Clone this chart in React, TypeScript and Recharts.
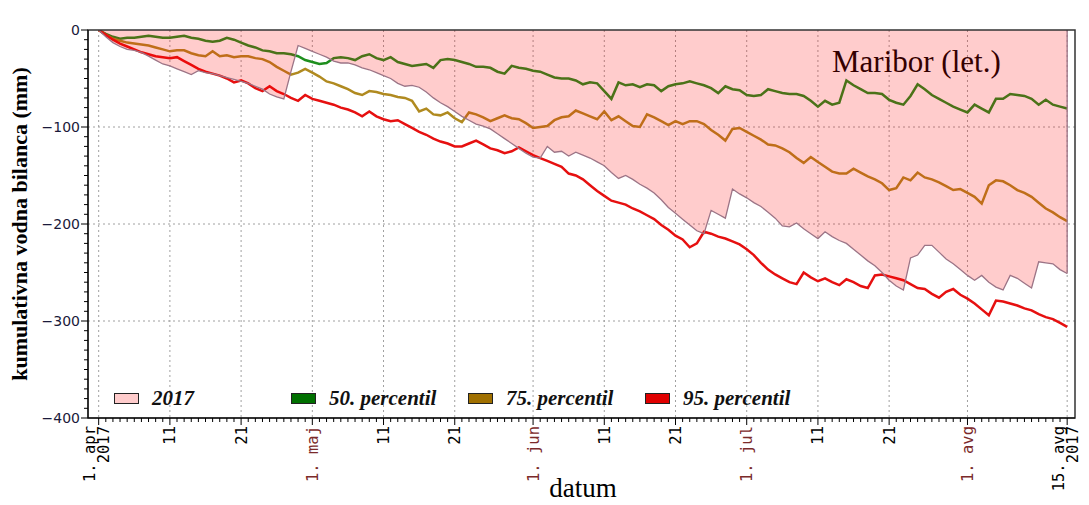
import React from 'react'
import {
  ComposedChart,
  Line,
  Area,
  XAxis,
  YAxis,
  CartesianGrid,
  ReferenceLine,
  ReferenceArea,
  Legend,
  Customized,
} from 'recharts'

// day index from 1. apr 2017 to 15. avg 2017
const days = Array.from({ length: 137 }, (_, i) => i)

const bilanca2017 = [
  0, -7, -13, -17, -20, -21, -23, -27, -31, -35,
  -37, -40, -43, -46, -42, -44, -45, -47, -49, -51,
  -53, -55, -58, -61, -66, -69, -71, -43, -16, -19,
  -22, -25, -28, -32, -34, -34, -36, -39, -41, -44,
  -47, -50, -55, -58, -57, -59, -64, -70, -75, -79,
  -84, -89, -93, -97, -99, -102, -107, -112, -117, -122,
  -127, -131, -132, -120, -126, -125, -130, -126, -129, -132,
  -136, -140, -147, -153, -150, -154, -159, -163, -168, -175,
  -183, -189, -195, -201, -207, -210, -186, -190, -194, -164,
  -169, -173, -178, -182, -188, -194, -202, -203, -199, -205,
  -210, -215, -208, -213, -217, -220, -226, -232, -238, -243,
  -250, -258, -264, -268, -235, -232, -222, -222, -229, -236,
  -241, -247, -253, -258, -253, -260, -265, -268, -253, -256,
  -261, -266, -239, -240, -241, -247, -251,
]

const percentil50 = [
  0, -4, -7, -9, -8, -8, -7, -6, -7, -8,
  -8, -7, -6, -8, -9, -11, -12, -11, -8, -10,
  -13, -16, -18, -21, -22, -24, -24, -25, -27, -31,
  -33, -35, -34, -29, -28, -29, -31, -27, -25, -29,
  -31, -28, -33, -35, -37, -36, -35, -39, -31, -30,
  -31, -33, -35, -38, -38, -39, -43, -45, -37, -39,
  -40, -42, -43, -46, -49, -50, -50, -52, -56, -54,
  -55, -63, -71, -54, -57, -56, -59, -56, -57, -63,
  -58, -56, -55, -53, -55, -57, -60, -65, -58, -61,
  -62, -67, -68, -67, -61, -63, -65, -66, -66, -68,
  -73, -79, -73, -77, -75, -52, -57, -61, -65, -65,
  -66, -72, -75, -77, -68, -56, -61, -67, -71, -75,
  -79, -82, -85, -77, -81, -85, -71, -71, -66, -67,
  -68, -71, -77, -72, -77, -79, -81,
]

const percentil75 = [
  0, -5, -9, -11, -13, -14, -15, -16, -18, -20,
  -22, -21, -21, -24, -26, -27, -22, -27, -26, -28,
  -27, -27, -29, -30, -33, -38, -42, -46, -44, -40,
  -44, -48, -53, -55, -58, -61, -65, -67, -63, -64,
  -66, -67, -69, -70, -73, -84, -81, -87, -88, -85,
  -91, -95, -85, -87, -90, -94, -91, -88, -91, -92,
  -96, -101, -100, -99, -93, -90, -89, -83, -86, -89,
  -92, -84, -93, -89, -94, -99, -100, -87, -90, -94,
  -98, -94, -97, -94, -94, -97, -103, -108, -114, -102,
  -101, -105, -109, -113, -118, -119, -122, -126, -132, -137,
  -131, -136, -141, -146, -148, -148, -143, -147, -151, -154,
  -158, -165, -163, -152, -155, -147, -152, -154, -157, -161,
  -165, -164, -168, -172, -179, -160, -155, -156, -160, -165,
  -168, -172, -178, -184, -188, -193, -197,
]

const percentil95 = [
  0, -5, -10, -14, -17, -20, -23, -25, -27, -28,
  -29, -28, -32, -36, -40, -43, -45, -47, -50, -54,
  -52, -55, -60, -63, -58, -63, -66, -70, -73, -67,
  -71, -73, -75, -77, -80, -82, -85, -89, -84, -89,
  -92, -94, -93, -97, -101, -105, -108, -112, -115, -117,
  -120, -120, -117, -114, -118, -122, -124, -127, -125, -121,
  -125, -129, -132, -135, -138, -141, -148, -150, -154, -160,
  -166, -171, -176, -178, -180, -184, -187, -191, -195, -201,
  -206, -212, -216, -224, -220, -208, -210, -213, -215, -218,
  -221, -226, -232, -240, -247, -252, -256, -260, -262, -250,
  -255, -259, -256, -260, -263, -257, -260, -264, -266, -253,
  -252, -254, -256, -258, -262, -266, -267, -272, -276, -270,
  -267, -273, -277, -282, -288, -294, -279, -280, -282, -284,
  -287, -289, -293, -296, -298, -302, -306,
]

const tickDays = [0, 10, 20, 30, 40, 50, 61, 71, 81, 91, 101, 111, 122, 136]
const tickLabels = [
  ['1. apr', '2017'], ['11'], ['21'], ['1. maj'], ['11'], ['21'], ['1. jun'],
  ['11'], ['21'], ['1. jul'], ['11'], ['21'], ['1. avg'], ['15. avg', '2017'],
]
const monthDays = [30, 61, 91, 122]

const yTicks = Array.from({ length: 41 }, (_, i) => -400 + i * 10)
const yGrid = [-100, -200, -300]

const legendItems = [
  { name: '2017', color: '#ffcccc' },
  { name: '50. percentil', color: '#007000' },
  { name: '75. percentil', color: '#a07000' },
  { name: '95. percentil', color: '#e00000' },
]

const data = days.map((d, i) => ({
  day: d,
  y2017: bilanca2017[i],
  p50: percentil50[i],
  p75: percentil75[i],
  p95: percentil95[i],
}))

const serif = '"Liberation Serif", "Times New Roman", serif'

function XTick(props: any) {
  const { x, y, payload } = props
  const d = payload.value
  const idx = tickDays.indexOf(d)
  const major = idx >= 0
  const lines = major ? tickLabels[idx] : []
  const color = monthDays.includes(d) ? '#7b2a2a' : '#000'
  return (
    <g>
      <line x1={x} x2={x} y1={y} y2={y + (major ? 7 : 4)} stroke="#000" />
      {major && (
        <text
          transform={`translate(${x},${y + 8}) rotate(-90)`}
          textAnchor="end"
          fontFamily='"DejaVu Sans Mono", monospace'
          fontSize={15.5}
          fill={color}
        >
          {lines.length === 1 ? (
            <tspan x={0} dy="0.35em">{lines[0]}</tspan>
          ) : (
            <>
              <tspan x={0} dy={-3.5}>{lines[0]}</tspan>
              <tspan x={0} dy={14}>{lines[1]}</tspan>
            </>
          )}
        </text>
      )}
    </g>
  )
}

function YTick(props: any) {
  const { x, y, payload } = props
  const v = payload.value
  const major = v % 100 === 0
  return (
    <g>
      <line x1={x - (major ? 7 : 4)} x2={x} y1={y} y2={y} stroke="#000" />
      {major && (
        <text
          x={x - 8}
          y={y}
          dy="0.35em"
          textAnchor="end"
          fontFamily='"DejaVu Sans", sans-serif'
          fontSize={14}
          fill="#1a1a3a"
        >
          {v === 0 ? '0' : '\u2212' + Math.abs(v)}
        </text>
      )}
    </g>
  )
}

function Texts() {
  return (
    <g>
      <text x={832} y={72} fontFamily={serif} fontSize={31} fill="#000">
        Maribor (let.)
      </text>
      <text
        transform="translate(27,224) rotate(-90)"
        textAnchor="middle"
        fontFamily={serif}
        fontWeight="bold"
        fontSize={22}
        fill="#000"
      >
        kumulativna vodna bilanca (mm)
      </text>
      <text x={583} y={497} textAnchor="middle" fontFamily={serif} fontSize={27} fill="#000">
        datum
      </text>
    </g>
  )
}

function LegendContent() {
  return (
    <div style={{ display: 'flex', paddingLeft: 114, height: 24, alignItems: 'center' }}>
      {legendItems.map((item) => (
        <div key={item.name} style={{ width: 177, display: 'flex', alignItems: 'center' }}>
          <span
            style={{
              display: 'inline-block',
              width: 25,
              height: 11,
              background: item.color,
              border: '1px solid #222',
              boxSizing: 'border-box',
            }}
          />
          <span
            style={{
              marginLeft: 13,
              fontFamily: serif,
              fontStyle: 'italic',
              fontWeight: 'bold',
              fontSize: 21,
              color: '#111',
              whiteSpace: 'nowrap',
            }}
          >
            {item.name}
          </span>
        </div>
      ))}
    </div>
  )
}

export default function App() {
  const last = data[data.length - 1]
  return (
    <div style={{ position: 'absolute', left: 0, top: 0, width: 1089, height: 505, background: '#fff' }}>
      <ComposedChart
        width={1089}
        height={505}
        data={data}
        margin={{ top: 30, right: 14, bottom: 0, left: 0 }}
      >
        <CartesianGrid
          stroke="#a0a0a0"
          strokeDasharray="2 3"
          verticalValues={tickDays}
          horizontalValues={yGrid}
        />
        <XAxis
          dataKey="day"
          type="number"
          domain={[-1.5, 137.1]}
          allowDataOverflow
          ticks={days}
          interval={0}
          tickLine={false}
          tickSize={0}
          tickMargin={0}
          tick={(p: any) => <XTick {...p} />}
          axisLine={{ stroke: '#000' }}
          height={87}
        />
        <YAxis
          type="number"
          domain={[-400, 0]}
          allowDataOverflow
          ticks={yTicks}
          interval={0}
          tickLine={false}
          tickSize={0}
          tickMargin={0}
          tick={(p: any) => <YTick {...p} />}
          axisLine={{ stroke: '#000' }}
          width={88}
        />
        <Line dataKey="p50" stroke="#1e8f1e" strokeWidth={2.5} dot={false} activeDot={false} isAnimationActive={false} />
        <Line dataKey="p75" stroke="#b08a20" strokeWidth={2.5} dot={false} activeDot={false} isAnimationActive={false} />
        <Line dataKey="p95" stroke="#e61010" strokeWidth={2.5} dot={false} activeDot={false} isAnimationActive={false} />
        <Area
          dataKey="y2017"
          type="linear"
          baseValue={0}
          fill="rgba(255,0,0,0.2)"
          fillOpacity={1}
          stroke="#9c7486"
          strokeWidth={1.3}
          dot={false}
          activeDot={false}
          isAnimationActive={false}
          zIndex={450}
        />
        <ReferenceLine
          segment={[{ x: last.day, y: 0 }, { x: last.day, y: last.y2017 }]}
          stroke="#9c7486"
          strokeWidth={1.3}
          zIndex={460}
        />
        <ReferenceArea
          x1={-1.5}
          x2={137.1}
          y1={-400}
          y2={0}
          fill="none"
          stroke="#333"
          strokeWidth={1.5}
          ifOverflow="visible"
          zIndex={470}
        />
        <Legend
          layout="horizontal"
          verticalAlign="middle"
          align="center"
          content={() => <LegendContent />}
          wrapperStyle={{ left: 0, top: 386, width: 1089, height: 24, margin: 0, padding: 0 }}
        />
        <Customized component={Texts} />
      </ComposedChart>
    </div>
  )
}
